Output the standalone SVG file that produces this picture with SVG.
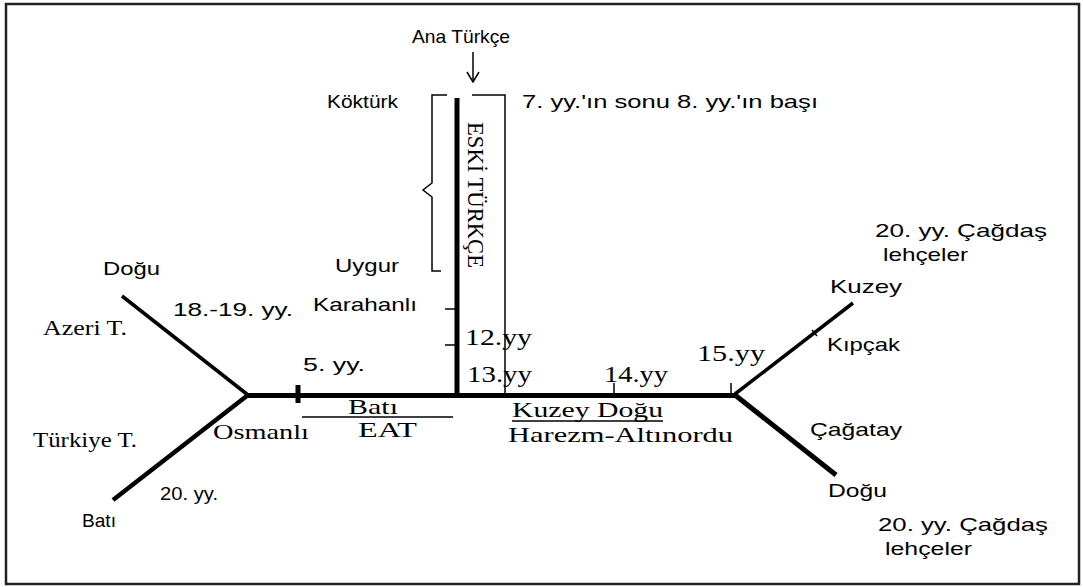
<svg xmlns="http://www.w3.org/2000/svg" width="1083" height="587" viewBox="0 0 1083 587">
<defs>
<marker id="arr" viewBox="0 0 12 14" refX="11" refY="7" markerWidth="12" markerHeight="14" markerUnits="userSpaceOnUse" orient="auto">
<path d="M1,1 L11,7 L1,13" fill="none" stroke="#000" stroke-width="1.5"/>
</marker>
<style>
.s{font-family:"Liberation Sans",Arial,sans-serif;font-size:19px;fill:#000}
.r{font-family:"Liberation Serif","Times New Roman",serif;font-size:22px;fill:#000}
.y{font-family:"Liberation Serif","Times New Roman",serif;font-size:24px;fill:#000}
.th{stroke:#000;fill:none;stroke-width:1.5}
.tk{stroke:#000;fill:none}
</style>
</defs>
<rect x="6" y="4" width="1073" height="580" fill="#fff" stroke="#222" stroke-width="2.5"/>
<g id="connectors">
<line x1="473" y1="52" x2="473" y2="82" stroke="#000" stroke-width="1.5" marker-end="url(#arr)"/>
<line class="tk" x1="457" y1="98" x2="457" y2="397" stroke-width="5"/>
<line class="tk" x1="246" y1="395.5" x2="737" y2="395.5" stroke-width="5"/>
<line class="tk" x1="122" y1="296" x2="248" y2="395" stroke-width="3.5"/>
<line class="tk" x1="248" y1="395" x2="113" y2="500" stroke-width="4.5"/>
<line class="tk" x1="735" y1="394" x2="853" y2="303" stroke-width="3.5"/>
<line class="tk" x1="735" y1="395" x2="836" y2="475" stroke-width="5"/>
<path class="th" d="M447,95 H432 V183 L423,190 L432,197 V271 H441"/>
<path class="th" d="M472,95 H505 V395"/>
<line class="th" x1="445" y1="309" x2="457" y2="309"/>
<line class="th" x1="445" y1="345" x2="457" y2="345"/>
<line class="tk" x1="298" y1="385" x2="298" y2="403" stroke-width="5"/>
<rect x="349" y="395" width="7" height="3" fill="#000"/>
<rect x="517" y="395" width="7" height="3" fill="#000"/>
<line class="th" x1="614" y1="383" x2="614" y2="395"/>
<rect x="603" y="393" width="11" height="5" fill="#000"/>
<line class="th" x1="731" y1="383" x2="731" y2="395"/>
<line class="th" x1="812" y1="330" x2="817" y2="336"/>
<line class="th" x1="302" y1="417" x2="453" y2="417"/>
<line class="th" x1="512" y1="421" x2="663" y2="421"/>
</g>
<g id="node-ana"><text class="s" x="412" y="43" textLength="98" lengthAdjust="spacingAndGlyphs">Ana Türkçe</text></g>
<g id="node-kokturk"><text class="s" x="327" y="108" textLength="71" lengthAdjust="spacingAndGlyphs">Köktürk</text></g>
<g id="node-date"><text class="s" x="522" y="108" textLength="296" lengthAdjust="spacingAndGlyphs">7. yy.'ın sonu 8. yy.'ın başı</text></g>
<g id="node-eski"><text class="r" style="font-size:24px" x="468" y="122" transform="rotate(90 468 122)" textLength="146" lengthAdjust="spacingAndGlyphs">ESKİ TÜRKÇE</text></g>
<g id="node-uygur"><text class="s" x="335" y="272" textLength="64" lengthAdjust="spacingAndGlyphs">Uygur</text></g>
<g id="node-karahanli"><text class="s" x="313" y="311" textLength="104" lengthAdjust="spacingAndGlyphs">Karahanlı</text></g>
<g id="node-dogu-left"><text class="s" x="103" y="275" textLength="57" lengthAdjust="spacingAndGlyphs">Doğu</text></g>
<g id="node-1819"><text class="s" x="173" y="316" textLength="120" lengthAdjust="spacingAndGlyphs">18.-19. yy.</text></g>
<g id="node-azeri"><text class="r" x="43" y="335" textLength="84" lengthAdjust="spacingAndGlyphs">Azeri T.</text></g>
<g id="node-5yy"><text class="s" x="303" y="371" textLength="62" lengthAdjust="spacingAndGlyphs">5. yy.</text></g>
<g id="node-12yy"><text class="y" x="465" y="345" textLength="67" lengthAdjust="spacingAndGlyphs">12.yy</text></g>
<g id="node-13yy"><text class="y" x="467" y="382" textLength="65" lengthAdjust="spacingAndGlyphs">13.yy</text></g>
<g id="node-14yy"><text class="y" x="604" y="382" textLength="64" lengthAdjust="spacingAndGlyphs">14.yy</text></g>
<g id="node-15yy"><text class="y" x="697" y="361" textLength="68" lengthAdjust="spacingAndGlyphs">15.yy</text></g>
<g id="node-bati-eat"><text class="r" x="348" y="414" textLength="50" lengthAdjust="spacingAndGlyphs">Batı</text><text class="r" x="358" y="437" textLength="59" lengthAdjust="spacingAndGlyphs">EAT</text></g>
<g id="node-osmanli"><text class="r" x="213" y="439" textLength="96" lengthAdjust="spacingAndGlyphs">Osmanlı</text></g>
<g id="node-kuzeydogu"><text class="r" x="512" y="417" textLength="151" lengthAdjust="spacingAndGlyphs">Kuzey Doğu</text><text class="r" x="508" y="442" textLength="225" lengthAdjust="spacingAndGlyphs">Harezm-Altınordu</text></g>
<g id="node-turkiye"><text class="r" x="33" y="447" textLength="104" lengthAdjust="spacingAndGlyphs">Türkiye T.</text></g>
<g id="node-20yy-left"><text class="s" x="160" y="500" textLength="58" lengthAdjust="spacingAndGlyphs">20. yy.</text></g>
<g id="node-bati-left"><text class="s" x="82" y="527" textLength="34" lengthAdjust="spacingAndGlyphs">Batı</text></g>
<g id="node-cagdas-top"><text class="s" x="875" y="237" textLength="172" lengthAdjust="spacingAndGlyphs">20. yy. Çağdaş</text><text class="s" x="883" y="261" textLength="85" lengthAdjust="spacingAndGlyphs">lehçeler</text></g>
<g id="node-kuzey"><text class="s" x="830" y="293" textLength="72" lengthAdjust="spacingAndGlyphs">Kuzey</text></g>
<g id="node-kipcak"><text class="s" x="827" y="351" textLength="73" lengthAdjust="spacingAndGlyphs">Kıpçak</text></g>
<g id="node-cagatay"><text class="s" x="810" y="436" textLength="92" lengthAdjust="spacingAndGlyphs">Çağatay</text></g>
<g id="node-dogu-right"><text class="s" x="828" y="497" textLength="59" lengthAdjust="spacingAndGlyphs">Doğu</text></g>
<g id="node-cagdas-bottom"><text class="s" x="878" y="531" textLength="170" lengthAdjust="spacingAndGlyphs">20. yy. Çağdaş</text><text class="s" x="885" y="555" textLength="87" lengthAdjust="spacingAndGlyphs">lehçeler</text></g>
</svg>
